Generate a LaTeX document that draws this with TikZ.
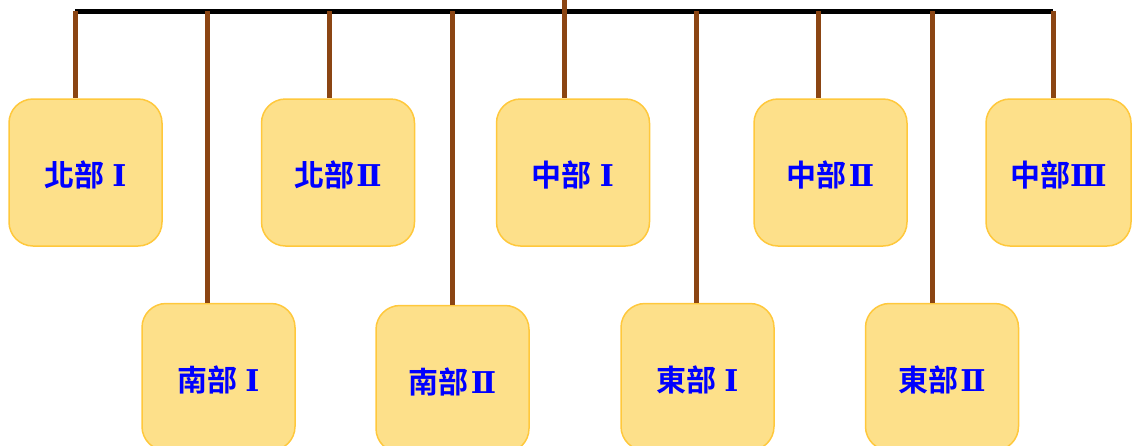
\documentclass[tikz,border=0pt]{standalone}
\usepackage{fontspec}
\newfontfamily\cjk{Noto Sans CJK TC}[BoldFont={Noto Sans CJK TC Bold}]
\newfontfamily\rom{DejaVu Serif}
\newcommand{\rn}[2][2pt]{\hspace{#1}{\rom\bfseries #2}}
\definecolor{boxfill}{RGB}{253,224,138}
\definecolor{boxline}{RGB}{255,200,60}
\definecolor{stem}{RGB}{139,69,19}
\definecolor{lbl}{RGB}{0,0,255}
\begin{document}
\begin{tikzpicture}[x=1pt,y=-1pt,
  unit/.style={draw=boxline,fill=boxfill,line width=1.5pt,rounded corners=24pt,
    minimum width=153pt,minimum height=147pt,inner sep=0pt,
    font=\cjk\bfseries\fontsize{30}{34}\selectfont,text=lbl,
    text depth=0pt},
  stemline/.style={draw=stem,line width=5pt},
  barline/.style={draw=black,line width=5pt}]
\useasboundingbox (0,0) rectangle (1132,445);
\clip (0,0) rectangle (1132,445);
% boxes
\node[unit] (n1) at (85.5,172.5) {\raisebox{-3pt}{北部\rn[8pt]{Ⅰ}}};
\node[unit] (n2) at (338,172.5) {\raisebox{-3pt}{北部\rn{Ⅱ}}};
\node[unit] (n3) at (573,172.5) {\raisebox{-3pt}{中部\rn[8pt]{Ⅰ}}};
\node[unit] (n4) at (830.5,172.5) {\raisebox{-3pt}{中部\rn{Ⅱ}}};
\node[unit,minimum width=145pt] (n5) at (1058.5,172.5) {\raisebox{-3pt}{中部\rn[0pt]{Ⅲ}}};
\node[unit] (s1) at (218.5,377) {\raisebox{-3pt}{南部\rn[8pt]{Ⅰ}}};
\node[unit] (s2) at (452.5,379) {\raisebox{-3pt}{南部\rn{Ⅱ}}};
\node[unit] (e1) at (697.5,377) {\raisebox{-3pt}{東部\rn[8pt]{Ⅰ}}};
\node[unit] (e2) at (942,377) {\raisebox{-3pt}{東部\rn{Ⅱ}}};
% bar
\coordinate (bl) at (75,11);
\coordinate (br) at (1053,11);
\draw[barline] (bl) -- (br);
\coordinate (top) at (564,0);
\coordinate (t1) at (75,11);
\coordinate (t2) at (207,11);
\coordinate (t3) at (329,11);
\coordinate (t4) at (452,11);
\coordinate (t6) at (696,11);
\coordinate (t7) at (818,11);
\coordinate (t8) at (932,11);
\coordinate (t9) at (1053,11);
\draw[stemline] (t1) -- (t1 |- n1.north);
\draw[stemline] (t2) -- (t2 |- s1.north);
\draw[stemline] (t3) -- (t3 |- n2.north);
\draw[stemline] (t4) -- (t4 |- s2.north);
\draw[stemline] (top) -- (top |- n3.north);
\draw[stemline] (t6) -- (t6 |- e1.north);
\draw[stemline] (t7) -- (t7 |- n4.north);
\draw[stemline] (t8) -- (t8 |- e2.north);
\draw[stemline] (t9) -- (t9 |- n5.north);
\end{tikzpicture}
\end{document}
